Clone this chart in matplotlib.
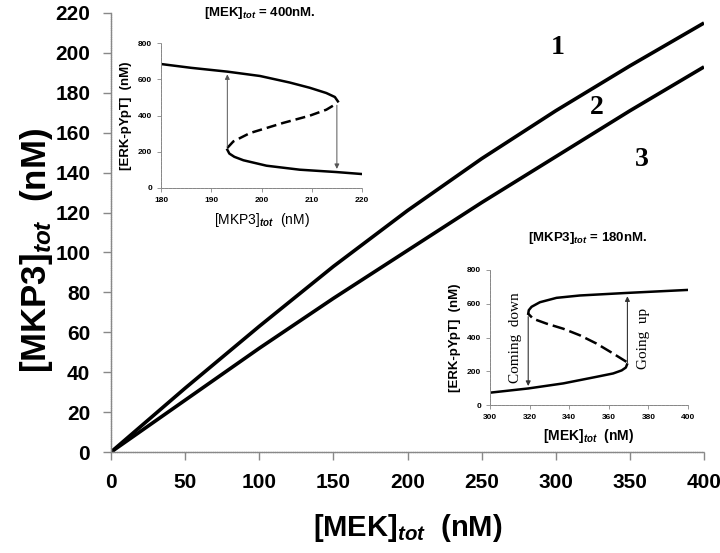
import matplotlib
matplotlib.use("Agg")
import matplotlib.pyplot as plt

plt.rcParams['font.family'] = ['Liberation Sans', 'DejaVu Sans']
plt.rcParams['mathtext.fontset'] = 'custom'
plt.rcParams['mathtext.it'] = 'Liberation Sans:italic:bold'
plt.rcParams['mathtext.bf'] = 'Liberation Sans:bold'

# main curves: [MKP3]tot vs [MEK]tot
mek = [0, 25, 50, 75, 100, 150, 200, 250, 300, 350, 400]
mkp3_1 = [0, 16, 32, 47.5, 63, 93, 121, 147, 171, 193.5, 215]
mkp3_2 = [0, 13, 26, 39, 52, 77, 101, 125, 148, 171, 193]

# inset 1: [MEK]tot = 400nM, x = [MKP3]tot
in1_up_x = [180, 186, 193.2, 199.7, 205.6, 209.6, 212.9, 214.6, 215.2]
in1_up_y = [684, 663, 642, 618, 582, 553, 524, 502, 478]
in1_mid_x = [193.2, 194.4, 197.7, 204.3, 209.6, 212.9, 214.9]
in1_mid_y = [221, 257, 303, 359, 399, 432, 465]
in1_lo_x = [193.2, 193.6, 194.6, 196.4, 201.0, 207.6, 214.9, 220.0]
in1_lo_y = [211, 190, 172, 153, 123, 101, 88, 77]

# inset 2: [MKP3]tot = 180nM, x = [MEK]tot
in2_lo_x = [300, 319.3, 337, 353.8, 362.2, 366.5, 368.6, 369.2]
in2_lo_y = [73, 98, 128, 167, 187, 205, 222, 240]
in2_mid_x = [368.9, 362.2, 353.8, 345.4, 337, 328.6, 321.8, 319.3]
in2_mid_y = [256, 305, 364, 413, 452, 482, 511, 541]
in2_up_x = [319.3, 319.6, 321, 325.2, 333.6, 345.4, 368.9, 400]
in2_up_y = [541, 562, 582, 609, 635, 649, 664, 682]

fig = plt.figure(figsize=(7.2, 5.53), dpi=100)
ax = fig.add_axes([0.1542, 0.1826, 0.8236, 0.7939])

grey = '#888888'


def style_axes(a, lw):
    for s in ['top', 'right']:
        a.spines[s].set_visible(False)
    for s in ['left', 'bottom']:
        a.spines[s].set_color(grey)
        a.spines[s].set_linewidth(lw)
        a.spines[s].set_linestyle((0, (1, 0.6)))
    a.tick_params(direction='out', color=grey, width=lw)


ax.plot(mek, mkp3_1, color='black', lw=2.6, solid_capstyle='butt')
ax.plot(mek, mkp3_2, color='black', lw=2.6, solid_capstyle='butt')
ax.set_xlim(0, 400)
ax.set_ylim(0, 220)
ax.set_xticks(range(0, 401, 50))
ax.set_yticks(range(0, 221, 20))
style_axes(ax, 1.0)
ax.tick_params(length=6, labelsize=15)
ax.tick_params(axis='x', pad=9)
ax.tick_params(axis='y', pad=9)
for t in ax.get_xticklabels() + ax.get_yticklabels():
    t.set_fontweight('bold')

ax.set_xlabel(r'[MEK]$_{\mathit{tot}}$  (nM)', fontsize=21, fontweight='bold')
ax.xaxis.set_label_coords(0.5, -0.137)
ax.set_ylabel(r'[MKP3]$_{\mathit{tot}}$  (nM)', fontsize=25, fontweight='bold')
ax.yaxis.set_label_coords(-0.095, 0.46)

ax.text(301.5, 202.5, '1', family='Liberation Serif', fontsize=20, fontweight='bold', ha='center', va='center')
ax.text(328, 172.5, '2', family='Liberation Serif', fontsize=20, fontweight='bold', ha='center', va='center')
ax.text(358, 146.5, '3', family='Liberation Serif', fontsize=20, fontweight='bold', ha='center', va='center')

fig.text(260 / 720, 1 - 13 / 553, r'[MEK]$_{\mathit{tot}}$ = 400nM.', fontsize=9.5,
         fontweight='bold', ha='center', va='center')
fig.text(588 / 720, 1 - 238 / 553, r'[MKP3]$_{\mathit{tot}}$ = 180nM.', fontsize=9.5,
         fontweight='bold', ha='center', va='center')

# inset 1
a1 = fig.add_axes([161 / 720, 1 - 188 / 553, 201 / 720, 145 / 553])
a1.plot(in1_up_x, in1_up_y, color='black', lw=1.8)
a1.plot(in1_lo_x, in1_lo_y, color='black', lw=1.8)
a1.plot(in1_mid_x, in1_mid_y, color='black', lw=1.8, ls=(0, (4, 2)))
a1.annotate('', xy=(193.2, 642), xytext=(193.2, 212),
            arrowprops=dict(arrowstyle='-|>', color='#555555', lw=0.7, mutation_scale=7))
a1.annotate('', xy=(215.0, 90), xytext=(215.0, 472),
            arrowprops=dict(arrowstyle='-|>', color='#555555', lw=0.7, mutation_scale=7))
a1.set_xlim(180, 220)
a1.set_ylim(0, 800)
a1.set_xticks([180, 190, 200, 210, 220])
a1.set_yticks([0, 200, 400, 600, 800])
style_axes(a1, 0.6)
a1.tick_params(length=3, labelsize=6)
for t in a1.get_xticklabels() + a1.get_yticklabels():
    t.set_fontweight('bold')
a1.set_xlabel(r'[MKP3]$_{\mathit{tot}}$  (nM)', fontsize=10, labelpad=5)
a1.set_ylabel('[ERK-pYpT]  (nM)', fontsize=9.5, fontweight='bold', labelpad=4)

# inset 2
a2 = fig.add_axes([490 / 720, 1 - 405 / 553, 198 / 720, 135 / 553])
a2.plot(in2_lo_x, in2_lo_y, color='black', lw=1.8)
a2.plot(in2_up_x, in2_up_y, color='black', lw=1.8)
a2.plot(in2_mid_x, in2_mid_y, color='black', lw=1.8, ls=(0, (5, 2)))
a2.annotate('', xy=(319.3, 96), xytext=(319.3, 540),
            arrowprops=dict(arrowstyle='-|>', color='#333333', lw=0.8, mutation_scale=7))
a2.annotate('', xy=(369.4, 661), xytext=(369.4, 234),
            arrowprops=dict(arrowstyle='-|>', color='#333333', lw=0.8, mutation_scale=7))
a2.text(313, 400, 'Coming  down', family='Liberation Serif', fontsize=11,
        rotation=90, ha='center', va='center')
a2.text(377.6, 397, 'Going  up', family='Liberation Serif', fontsize=11,
        rotation=90, ha='center', va='center')
a2.set_xlim(300, 400)
a2.set_ylim(0, 800)
a2.set_xticks(range(300, 401, 20))
a2.set_yticks([0, 200, 400, 600, 800])
style_axes(a2, 0.6)
a2.tick_params(length=3, labelsize=6)
for t in a2.get_xticklabels() + a2.get_yticklabels():
    t.set_fontweight('bold')
a2.set_xlabel(r'[MEK]$_{\mathit{tot}}$  (nM)', fontsize=10, fontweight='bold', labelpad=4)
a2.set_ylabel('[ERK-pYpT]  (nM)', fontsize=9.5, fontweight='bold', labelpad=4)

fig.savefig('out.png', dpi=100)
